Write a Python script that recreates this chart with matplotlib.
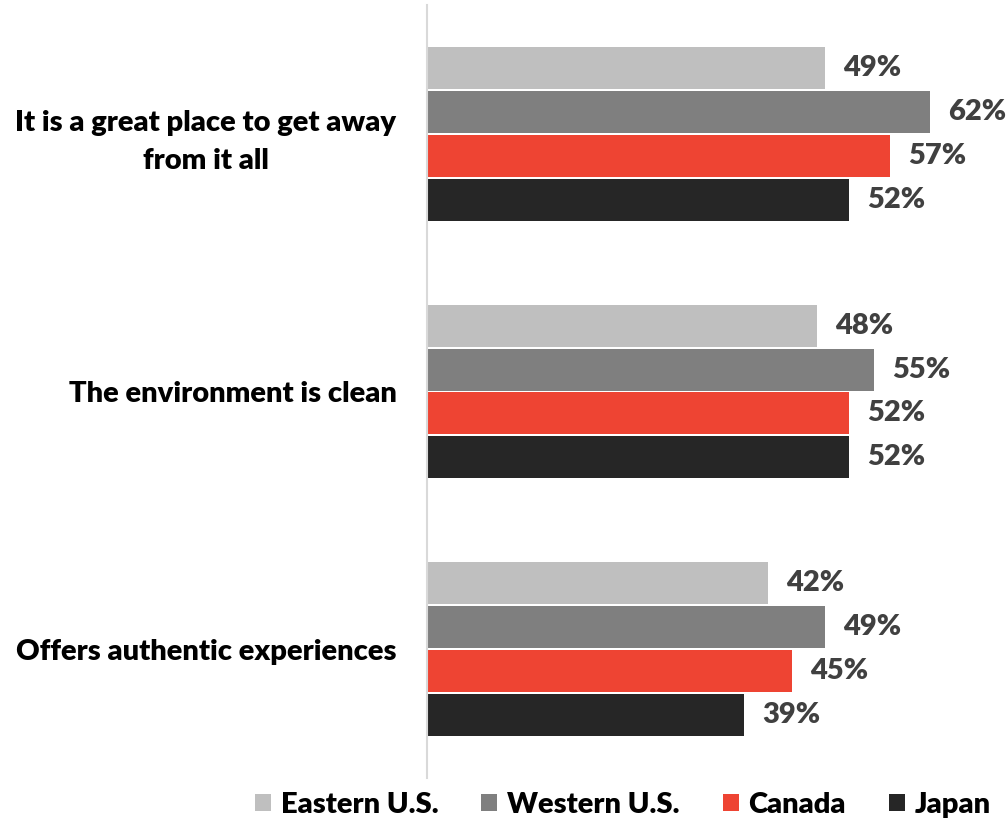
import numpy as np
import matplotlib.pyplot as plt

categories = ["It is a great place to get away\nfrom it all",
              "The environment is clean",
              "Offers authentic experiences"]
series = ["Eastern U.S.", "Western U.S.", "Canada", "Japan"]
eastern = [49, 48, 42]
western = [62, 55, 49]
canada = [57, 52, 45]
japan = [52, 52, 39]
colors = ["#BFBFBF", "#7F7F7F", "#EE4433", "#262626"]

plt.rcParams['font.family'] = ['Lato', 'DejaVu Sans']

fig = plt.figure(figsize=(10.06, 8.22), dpi=100)
ax = fig.add_axes([0.4245, 0.0535, 0.565, 0.9404])

values = [eastern, western, canada, japan]
y = np.arange(len(categories))
pitch = 0.1705
height = 0.163
for i, (name, vals, col) in enumerate(zip(series, values, colors)):
    pos = y - 1.5 * pitch + i * pitch
    bars = ax.barh(pos, vals, height=height, color=col, label=name)
    for b, v in zip(bars, vals):
        ax.annotate(f"{v}%", xy=(v, b.get_y() + b.get_height() / 2),
                    xytext=(13, 0), textcoords='offset points',
                    va='center', ha='left', fontsize=21, fontweight='heavy',
                    color='#404040')

ax.set_xlim(0, 70)
ax.set_ylim(2.5, -0.5)
ax.set_yticks(y)
ax.set_yticklabels(categories, fontsize=21, fontweight='heavy',
                   ha='right', multialignment='center', linespacing=1.55)
ax.tick_params(axis='y', length=0, pad=22)
ax.set_xticks([])
for s in ['top', 'right', 'bottom']:
    ax.spines[s].set_visible(False)
ax.spines['left'].set_color('#D9D9D9')
ax.spines['left'].set_linewidth(1.5)

leg = fig.legend(loc='center right', bbox_to_anchor=(0.985, 0.021), ncol=4,
                 frameon=False, prop={'size': 21, 'weight': 'heavy'},
                 handlelength=0.55, handleheight=0.55, handletextpad=0.33,
                 columnspacing=1.48, borderpad=0, borderaxespad=0)

fig.savefig("out.png", dpi=100)
